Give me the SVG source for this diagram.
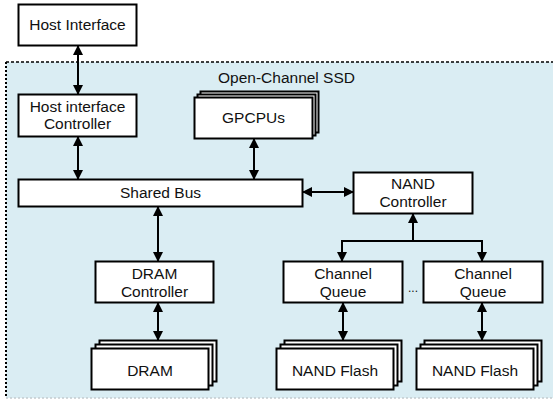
<svg xmlns="http://www.w3.org/2000/svg" width="553" height="400" viewBox="0 0 553 400">
  <style>
    .box { fill: #ffffff; stroke: #000000; stroke-width: 2; }
    .lbl { font-family: "Liberation Sans", Arial, sans-serif; font-size: 15.5px; fill: #111111; text-anchor: middle; }
    .wire { fill: none; stroke: #000000; stroke-width: 2; }
  </style>
  <defs>
    <marker id="head" viewBox="0 0 10 10" refX="9" refY="5" markerWidth="10" markerHeight="10" markerUnits="userSpaceOnUse" orient="auto-start-reverse">
      <path d="M0,0 L10,5 L0,10 z" fill="#000000"/>
    </marker>
  </defs>

  <!-- SSD enclosure -->
  <g id="ssd">
    <rect x="6" y="62" width="547" height="336" fill="#daedf3"/>
    <line x1="6" y1="62" x2="553" y2="62" stroke="#000" stroke-width="1.5" stroke-dasharray="3 2"/>
    <line x1="6" y1="62" x2="6" y2="398" stroke="#000" stroke-width="2" stroke-dasharray="2 2"/>
    <line x1="6" y1="398" x2="553" y2="398" stroke="#c4ccd0" stroke-width="1.5" stroke-dasharray="2 2"/>
    <text class="lbl" x="218" y="83" style="text-anchor:start">Open-Channel SSD</text>
  </g>

  <g id="host-interface">
    <rect class="box" x="18.5" y="4.5" width="118" height="41"/>
    <text class="lbl" x="77.5" y="30">Host Interface</text>
  </g>

  <g id="host-interface-controller">
    <rect class="box" x="18.5" y="94.5" width="118" height="42"/>
    <text class="lbl" x="77.5" y="112">Host interface</text>
    <text class="lbl" x="77.5" y="129">Controller</text>
  </g>

  <g id="gpcpus">
    <rect class="box" x="200.5" y="91.5" width="118" height="41"/>
    <rect class="box" x="197.5" y="94.5" width="118" height="41"/>
    <rect class="box" x="194.5" y="97.5" width="118" height="41"/>
    <text class="lbl" x="253.5" y="123">GPCPUs</text>
  </g>

  <g id="shared-bus">
    <rect class="box" x="18.5" y="179.5" width="284" height="27"/>
    <text class="lbl" x="160.5" y="198">Shared Bus</text>
  </g>

  <g id="nand-controller">
    <rect class="box" x="353.5" y="172.5" width="119" height="41"/>
    <text class="lbl" x="413" y="189">NAND</text>
    <text class="lbl" x="413" y="207">Controller</text>
  </g>

  <g id="dram-controller">
    <rect class="box" x="95.5" y="261.5" width="118" height="41"/>
    <text class="lbl" x="154.5" y="279">DRAM</text>
    <text class="lbl" x="154.5" y="297">Controller</text>
  </g>

  <g id="dram">
    <rect class="box" x="99.5" y="340.5" width="117" height="41"/>
    <rect class="box" x="95.5" y="344.5" width="117" height="41"/>
    <rect class="box" x="91.5" y="348.5" width="117" height="41"/>
    <text class="lbl" x="150" y="376">DRAM</text>
  </g>

  <g id="channel-queue-1">
    <rect class="box" x="283.5" y="261.5" width="119" height="41"/>
    <text class="lbl" x="343" y="279">Channel</text>
    <text class="lbl" x="343" y="297">Queue</text>
  </g>

  <g id="ellipsis">
    <text class="lbl" x="413" y="292" style="font-size:12px">...</text>
  </g>

  <g id="channel-queue-2">
    <rect class="box" x="423.5" y="261.5" width="119" height="41"/>
    <text class="lbl" x="483" y="279">Channel</text>
    <text class="lbl" x="483" y="297">Queue</text>
  </g>

  <g id="nand-flash-1">
    <rect class="box" x="284.5" y="340.5" width="117" height="41"/>
    <rect class="box" x="280.5" y="344.5" width="117" height="41"/>
    <rect class="box" x="276.5" y="348.5" width="117" height="41"/>
    <text class="lbl" x="335" y="376">NAND Flash</text>
  </g>

  <g id="nand-flash-2">
    <rect class="box" x="424.5" y="340.5" width="117" height="41"/>
    <rect class="box" x="420.5" y="344.5" width="117" height="41"/>
    <rect class="box" x="416.5" y="348.5" width="117" height="41"/>
    <text class="lbl" x="475" y="376">NAND Flash</text>
  </g>

  <!-- connectors -->
  <g id="connectors">
    <path class="wire" d="M78,46 V94" marker-start="url(#head)" marker-end="url(#head)"/>
    <path class="wire" d="M78,137 V179" marker-start="url(#head)" marker-end="url(#head)"/>
    <path class="wire" d="M254,139 V179" marker-start="url(#head)" marker-end="url(#head)"/>
    <path class="wire" d="M303,192 H353" marker-start="url(#head)" marker-end="url(#head)"/>
    <path class="wire" d="M158,207 V261" marker-start="url(#head)" marker-end="url(#head)"/>
    <path class="wire" d="M158,303 V340" marker-start="url(#head)" marker-end="url(#head)"/>
    <path class="wire" d="M413,241 V214" marker-end="url(#head)"/>
    <path class="wire" d="M342,261 V241 H482 V261" marker-start="url(#head)" marker-end="url(#head)"/>
    <path class="wire" d="M343,303 V340" marker-start="url(#head)" marker-end="url(#head)"/>
    <path class="wire" d="M482,303 V340" marker-start="url(#head)" marker-end="url(#head)"/>
  </g>
</svg>
